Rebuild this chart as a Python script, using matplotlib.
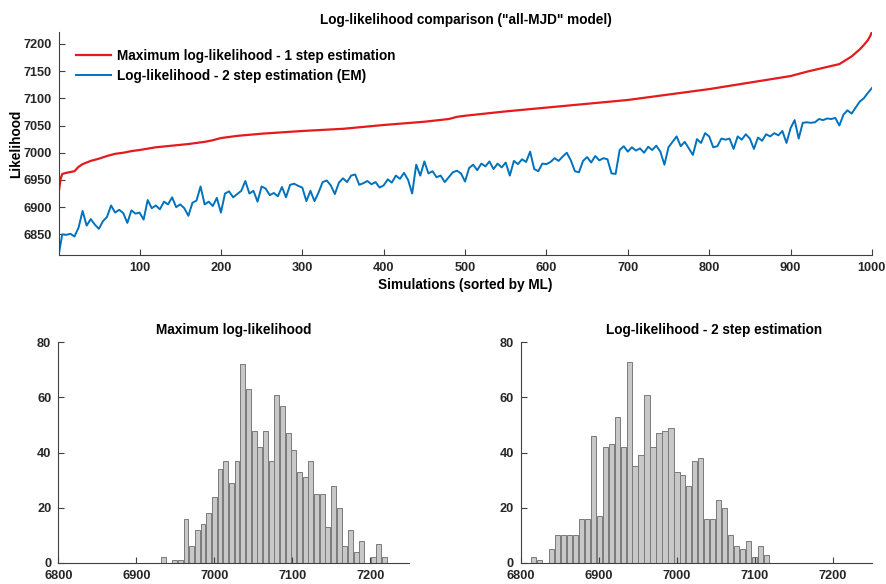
import numpy as np
import matplotlib
matplotlib.use('Agg')
from matplotlib import pyplot as plt

plt.rcParams['font.family'] = ['Liberation Sans', 'DejaVu Sans']
plt.rcParams['font.weight'] = 'bold'

# sorted maximum log-likelihood (1 step), read at some simulation numbers
ml_sims = [1, 3, 5, 10, 20, 25, 30, 40, 50, 60, 70, 80, 90, 100, 120, 140, 160,
           180, 190, 200, 220, 250, 280, 300, 350, 400, 450, 480, 490, 500, 550,
           600, 650, 700, 750, 800, 850, 900, 920, 940, 960, 975, 985, 990, 995,
           998, 1000]
ml_vals = [6931, 6952, 6961, 6963, 6966, 6974, 6979, 6985, 6989, 6994, 6998,
           7000, 7003, 7005, 7010, 7013, 7016, 7020, 7023, 7027, 7031, 7035,
           7038, 7040, 7044, 7051, 7057, 7062, 7066, 7068, 7076, 7083, 7090,
           7097, 7107, 7117, 7129, 7141, 7149, 7156, 7163, 7177, 7190, 7198,
           7207, 7215, 7222]

# 2 step (EM) log-likelihood, same order, read every 5 simulations
em_sims = [1] + list(range(5, 1001, 5))
em_vals = [6815,
           6850, 6849, 6851, 6846, 6862, 6893, 6866, 6878, 6868, 6860,
           6874, 6882, 6903, 6890, 6895, 6889, 6871, 6894, 6888, 6890,
           6877, 6913, 6898, 6903, 6896, 6910, 6905, 6918, 6900, 6905,
           6898, 6884, 6908, 6912, 6938, 6905, 6910, 6902, 6917, 6890,
           6925, 6929, 6918, 6924, 6930, 6948, 6925, 6930, 6910, 6938,
           6934, 6922, 6926, 6920, 6937, 6918, 6941, 6943, 6939, 6936,
           6911, 6930, 6911, 6927, 6946, 6949, 6940, 6924, 6945, 6953,
           6946, 6958, 6960, 6941, 6944, 6948, 6942, 6946, 6936, 6940,
           6951, 6945, 6958, 6952, 6963, 6950, 6925, 6978, 6958, 6984,
           6962, 6966, 6955, 6958, 6946, 6955, 6964, 6967, 6962, 6947,
           6972, 6978, 6968, 6980, 6975, 6984, 6970, 6980, 6973, 6982,
           6958, 6985, 6979, 6988, 6983, 7002, 6970, 6966, 6980, 6979,
           6983, 6990, 6985, 6993, 7000, 6986, 6966, 6964, 6985, 6992,
           6982, 6994, 6986, 6990, 6988, 6962, 6961, 7005, 7012, 7002,
           7010, 7004, 7008, 7000, 7011, 7005, 7013, 7002, 6978, 7010,
           7020, 7030, 7012, 7020, 7008, 6996, 7025, 7018, 7036, 7030,
           7010, 7012, 7026, 7024, 7026, 7007, 7030, 7024, 7034, 7026,
           7007, 7028, 7022, 7034, 7030, 7036, 7032, 7040, 7018, 7045,
           7060, 7026, 7055, 7056, 7055, 7056, 7062, 7060, 7063, 7062,
           7064, 7050, 7070, 7078, 7072, 7083, 7094, 7100, 7110, 7119]

# histogram counts (40 bins between min and max of each series)
ml_range = (6931, 7222)
ml_counts = [2, 0, 1, 1, 16, 6, 12, 14, 18, 24, 34, 37, 29, 37, 72, 63, 48, 42,
             48, 37, 61, 57, 47, 41, 33, 31, 37, 25, 25, 13, 28, 20, 6, 12, 4,
             8, 0, 2, 7, 2]
em_range = (6812, 7119)
em_counts = [2, 1, 0, 5, 10, 10, 10, 10, 16, 16, 46, 17, 42, 43, 53, 42, 73, 35,
             39, 61, 42, 47, 48, 49, 33, 32, 28, 37, 38, 16, 16, 23, 20, 10, 6,
             5, 8, 2, 6, 3]

axcol = '#404040'
txtcol = '#262626'


def style(ax):
    ax.spines['top'].set_visible(False)
    ax.spines['right'].set_visible(False)
    for s in ['left', 'bottom']:
        ax.spines[s].set_color(axcol)
        ax.spines[s].set_linewidth(0.8)
    ax.tick_params(direction='in', length=4, width=0.8, color=axcol,
                   labelcolor=txtcol, labelsize=9.2, pad=5)
    for lab in ax.get_xticklabels() + ax.get_yticklabels():
        lab.set_fontweight('bold')


fig = plt.figure(figsize=(8.87, 5.84), dpi=100)

# top: line comparison
ax = fig.add_axes([0.0665, 0.5634, 0.9165, 0.3818])
ax.plot(ml_sims, ml_vals, color='#e41a1c', lw=1.6,
        label='Maximum log-likelihood - 1 step estimation')
ax.plot(em_sims, em_vals, color='#0072BD', lw=1.4,
        label='Log-likelihood - 2 step estimation (EM)')
ax.set_xlim(1, 1000)
ax.set_ylim(6812, 7222)
ax.set_xticks(range(100, 1001, 100))
ax.set_yticks(range(6850, 7201, 50))
style(ax)
ax.set_title('Log-likelihood comparison ("all-MJD" model)', fontsize=9.8,
             fontweight='bold', pad=6)
ax.set_xlabel('Simulations (sorted by ML)', fontsize=9.8, fontweight='bold',
              labelpad=3)
ax.set_ylabel('Likelihood', fontsize=9.8, fontweight='bold', labelpad=0)
leg = ax.legend(loc='upper left', frameon=False, fontsize=9.8,
                handlelength=2.6, handletextpad=0.4, borderaxespad=0.85,
                labelspacing=0.42, bbox_to_anchor=(0.0, 1.0))
for t in leg.get_texts():
    t.set_fontweight('bold')

# bottom: histograms
hists = [
    ([0.0657, 0.036, 0.3957, 0.378], ml_range, ml_counts,
     'Maximum log-likelihood', 0.5),
    ([0.5874, 0.036, 0.3954, 0.378], em_range, em_counts,
     'Log-likelihood - 2 step estimation', 0.55),
]
for pos, rng, counts, title, tx in hists:
    hx = fig.add_axes(pos)
    edges = np.linspace(rng[0], rng[1], len(counts) + 1)
    w = edges[1] - edges[0]
    centres = edges[:-1] + w / 2
    hx.bar(centres, counts, width=w * 0.86, color='#c8c8c8',
           edgecolor='#7a7a7a', linewidth=0.7)
    hx.set_xlim(6800, 7250)
    hx.set_ylim(0, 80)
    hx.set_xticks(range(6800, 7201, 100))
    hx.set_yticks(range(0, 81, 20))
    style(hx)
    hx.set_title(title, fontsize=9.8, fontweight='bold', x=tx, pad=6)

fig.savefig('out.png', dpi=100)
